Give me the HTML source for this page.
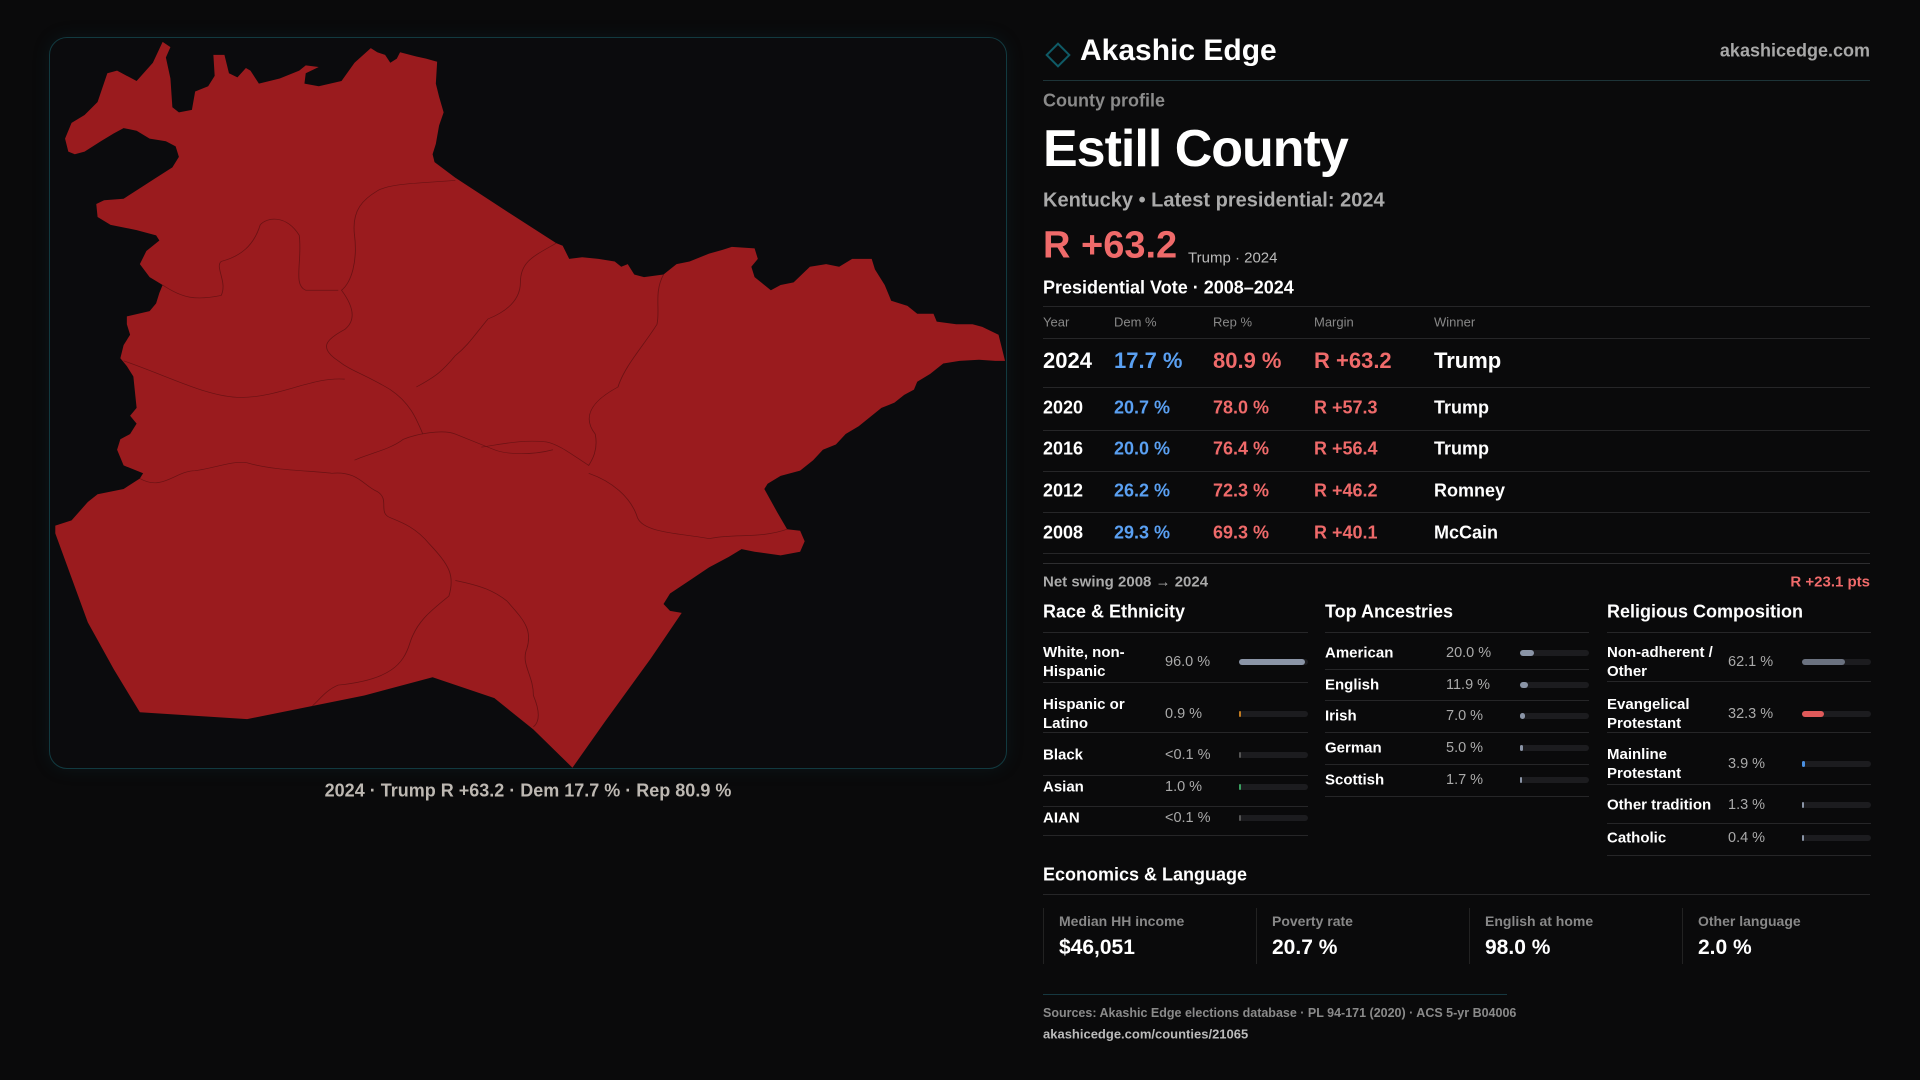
<!DOCTYPE html>
<html><head><meta charset="utf-8"><style>
*{margin:0;padding:0;box-sizing:border-box}
body{width:1920px;height:1080px;background:#0a0a0b;font-family:"Liberation Sans",sans-serif;position:relative;overflow:hidden;color:#fff}
.a{position:absolute;white-space:nowrap}
.ln{position:absolute;height:1px;background:#262628}
.mid{transform:translateY(-50%)}
</style></head><body>
<div class="a" style="left:49px;top:37px;width:958px;height:732px;border:1px solid #123a40;border-radius:18px;background:#0b0b0d;box-shadow:0 0 18px rgba(20,90,100,0.15)"></div>
<svg class="a" style="left:0;top:0" width="1020" height="820" viewBox="0 0 1568 1568" preserveAspectRatio="none">
<path fill="#9a1b1e" d="M105,290 L100,265 110,235 130,220 150,195 165,140 180,135 210,155 235,120 250,80 262,90 255,110 262,150 265,205 275,215 295,210 300,175 320,165 330,145 328,105 345,105 352,140 365,148 378,130 385,135 398,160 430,150 460,135 470,125 490,128 470,140 468,160 490,165 525,155 545,120 570,92 580,100 592,105 600,120 610,112 615,100 640,108 655,112 672,118 670,160 675,185 682,215 675,240 670,275 665,295 668,310 700,340 780,405 855,465 865,470 875,495 895,492 920,495 945,500 955,510 965,505 975,525 990,530 1020,525 1040,505 1060,500 1090,485 1110,478 1125,472 1160,475 1165,495 1155,510 1160,530 1175,545 1185,555 1200,545 1220,540 1245,510 1270,505 1290,510 1310,495 1340,495 1345,515 1360,545 1370,575 1395,585 1410,600 1435,600 1440,615 1470,620 1495,620 1510,625 1535,640 1540,665 1545,690 1530,690 1505,688 1475,690 1450,695 1430,715 1410,730 1405,745 1390,755 1375,770 1355,780 1335,800 1320,815 1300,830 1285,850 1265,860 1250,880 1230,900 1200,910 1180,925 1175,935 1195,980 1210,1012 1230,1015 1237,1035 1230,1055 1200,1062 1160,1055 1140,1050 1120,1065 1090,1085 1060,1110 1030,1135 1020,1155 1030,1168 1048,1172 1000,1260 930,1380 880,1468 820,1395 760,1335 665,1295 560,1330 460,1355 380,1375 215,1362 175,1280 135,1190 85,1020 85,1005 110,995 135,960 150,945 190,935 215,915 220,905 190,890 180,860 185,840 200,830 210,810 200,795 210,780 205,720 195,700 185,685 190,660 200,640 195,620 195,605 230,595 240,580 245,560 250,545 230,530 215,505 225,480 245,460 240,450 210,440 170,430 150,415 148,390 160,383 190,380 215,360 240,340 265,320 275,300 270,280 255,270 230,265 210,250 190,245 175,255 155,270 130,290 115,295 Z"/>
<g fill="none" stroke="#6a1214" stroke-width="1.3" vector-effect="non-scaling-stroke">
<path d="M190,690 C260,720 320,760 370,760 C430,760 480,720 530,725"/>
<path d="M700,345 C650,350 600,350 580,365 C560,380 540,400 545,450 C550,500 540,540 525,555 C540,580 550,610 530,630 C500,650 490,665 520,690 C540,710 560,715 600,745 C630,770 640,800 650,830"/>
<path d="M250,545 C280,570 300,575 340,565 C350,540 330,510 340,500 C370,490 390,470 400,430 C410,415 440,410 460,450 C465,500 450,545 470,555 L520,555"/>
<path d="M855,465 C820,490 800,500 800,540 C800,580 770,600 750,610 C730,640 720,660 700,680 C680,710 670,720 640,740"/>
<path d="M1020,525 C1005,560 1015,590 1010,620 C990,660 960,700 950,740 C920,760 890,790 915,830 C920,860 910,880 905,890 C880,870 860,850 840,845 C800,840 770,850 740,855"/>
<path d="M215,915 C250,940 270,900 300,900 C330,895 360,880 380,885 C420,900 480,900 510,905 C550,900 560,930 580,940 C600,955 580,980 600,990 C620,1000 640,1010 660,1040"/>
<path d="M660,1040 C690,1080 700,1100 690,1140 C660,1170 640,1190 630,1230 C620,1270 600,1300 520,1310 C500,1320 490,1340 480,1350"/>
<path d="M905,905 C940,920 970,950 980,990 C990,1020 1050,1020 1090,1030 C1130,1020 1170,1030 1210,1012"/>
<path d="M700,1110 C740,1120 760,1130 780,1150 C800,1180 820,1200 810,1240 C800,1270 820,1290 820,1330 C830,1360 830,1380 820,1390"/>
<path d="M545,880 C560,870 600,860 620,840 C640,830 680,820 700,830 C720,840 740,850 760,860 C780,870 820,870 850,860"/>
</g>
</svg>
<div class="a mid" style="left:0;width:1056px;text-align:center;top:791px;font-size:18px;color:#bdb8b2;font-weight:bold">2024 · Trump R +63.2 · Dem 17.7 % · Rep 80.9 %</div>

<svg class="a" style="left:1043px;top:40px" width="30" height="30"><rect x="7" y="7" width="16" height="16" transform="rotate(45 15 15)" fill="none" stroke="#0f5a66" stroke-width="2"/></svg>
<div class="a mid" style="left:1080px;top:51px;font-size:30px;font-weight:bold">Akashic Edge</div>
<div class="a mid" style="right:50px;top:51px;font-size:18px;font-weight:bold;color:#a8a8a8">akashicedge.com</div>
<div class="ln" style="left:1043px;width:827px;top:80px;background:#1d3438"></div>
<div class="a mid" style="left:1043px;top:101px;font-size:18px;color:#8a8a8a;font-weight:bold">County profile</div>
<div class="a mid" style="left:1043px;top:149px;font-size:52px;font-weight:bold;letter-spacing:-1px">Estill County</div>
<div class="a mid" style="left:1043px;top:201px;font-size:20px;color:#aaa;font-weight:bold">Kentucky • Latest presidential: 2024</div>
<div class="a mid" style="left:1043px;top:246px;font-size:38px;color:#ef6a6a;font-weight:bold">R +63.2</div>
<div class="a mid" style="left:1188px;top:258px;font-size:15px;color:#bbb">Trump · 2024</div>
<div class="a mid" style="left:1043px;top:288px;font-size:18px;font-weight:bold">Presidential Vote · 2008–2024</div>
<div class="ln" style="left:1043px;width:827px;top:306px"></div>
<div id="tbl"></div>
<div class="a mid" style="left:1043px;top:582px;font-size:15px;color:#aaa;font-weight:bold">Net swing 2008 → 2024</div>
<div class="a mid" style="right:50px;top:582px;font-size:15px;color:#ef6a6a;font-weight:bold">R +23.1 pts</div>
<div id="demo"></div>
<div class="a mid" style="left:1043px;top:875px;font-size:18px;font-weight:bold">Economics &amp; Language</div>
<div class="ln" style="left:1043px;width:827px;top:894px"></div>
<div id="econ"></div>
<div class="ln" style="left:1043px;width:464px;top:994px;background:#163840"></div>
<div class="a mid" style="left:1043px;top:1013px;font-size:12.5px;color:#8a8a8a;font-weight:bold">Sources: Akashic Edge elections database · PL 94-171 (2020) · ACS 5-yr B04006</div>
<div class="a mid" style="left:1043px;top:1034px;font-size:13px;color:#bbb;font-weight:bold">akashicedge.com/counties/21065</div>

<script>
const years=["2024","2020","2016","2012","2008"];
const demPct=[17.7,20.7,20.0,26.2,29.3];
const repPct=[80.9,78.0,76.4,72.3,69.3];
const margins=[63.2,57.3,56.4,46.2,40.1];
const winners=["Trump","Trump","Trump","Romney","McCain"];
const raceLabels=["White, non-<br>Hispanic","Hispanic or<br>Latino","Black","Asian","AIAN"];
const raceValues=[96.0,0.9,0.05,1.0,0.05];
const raceText=["96.0 %","0.9 %","<0.1 %","1.0 %","<0.1 %"];
const ancLabels=["American","English","Irish","German","Scottish"];
const ancValues=[20.0,11.9,7.0,5.0,1.7];
const relLabels=["Non-adherent /<br>Other","Evangelical<br>Protestant","Mainline<br>Protestant","Other tradition","Catholic"];
const relValues=[62.1,32.3,3.9,1.3,0.4];
const econLabels=["Median HH income","Poverty rate","English at home","Other language"];
const econValues=["$46,051","20.7 %","98.0 %","2.0 %"];

function mk(parent,html,style){const d=document.createElement('div');d.className='a';d.innerHTML=html;d.style.cssText=style;parent.appendChild(d);return d;}
const tbl=document.getElementById('tbl');
const colX=[1043,1114,1213,1314,1434];
["Year","Dem %","Rep %","Margin","Winner"].forEach((h,i)=>{
 const d=mk(tbl,h,`left:${colX[i]}px;top:322px;transform:translateY(-50%);font-size:13px;color:#888`);
 
 
});
mk(tbl,'','left:1043px;width:827px;top:338px;height:1px;background:#262628');
const rowY=[361,408,449,491,533];
const lineY=[387,430,471,512,553];
years.forEach((y,i)=>{
 const fs=i===0?22:18;
 const cells=[[y,'#fff'],[demPct[i].toFixed(1)+' %','#5aa0f2'],[repPct[i].toFixed(1)+' %','#ef6a6a'],['R +'+margins[i].toFixed(1),'#ef6a6a'],[winners[i],'#fff']];
 cells.forEach((c,j)=>{
  const d=mk(tbl,c[0],`left:${colX[j]}px;top:${rowY[i]}px;transform:translateY(-50%);font-size:${fs}px;color:${c[1]};font-weight:bold`);
  
  
 });
 mk(tbl,'',`left:1043px;width:827px;top:${lineY[i]}px;height:1px;background:#262628`);
});
mk(tbl,'','left:1043px;width:827px;top:563px;height:1px;background:#2e2e30');
const demo=document.getElementById('demo');
function section(x,title,labels,values,texts,ys,lys,colors,valX,barX){
 const t=mk(demo,title,`left:${x}px;top:612px;transform:translateY(-50%);font-size:18px;font-weight:bold`);
 
 
 mk(demo,'',`left:${x}px;width:${barX+69-x}px;top:632px;height:1px;background:#262628`);
 labels.forEach((l,i)=>{
  const a=mk(demo,l,`left:${x}px;top:${ys[i]}px;transform:translateY(-50%);font-size:15px;font-weight:bold;line-height:19px`);
  
  
  const v=mk(demo,texts[i],`left:${valX}px;top:${ys[i]}px;transform:translateY(-50%);font-size:14.5px;color:#aaa`);
  
  
  const tr=mk(demo,'',`left:${barX}px;top:${ys[i]-3}px;width:69px;height:6px;border-radius:3px;background:#1c1c1f`);
  
  
  const w=Math.max(1.5,values[i]/100*69);
  const b=mk(demo,'',`left:${barX}px;top:${ys[i]-3}px;width:${w}px;height:6px;border-radius:3px;background:${colors[i]}`);
  
  
  mk(demo,'',`left:${x}px;width:${barX+69-x}px;top:${lys[i]}px;height:1px;background:#262628`);
 });
}
section(1043,"Race &amp; Ethnicity",raceLabels,raceValues,raceText,[662,714,755,787,818],[682,732,775,806,835],["#8a94a6","#c07a20","#555","#3aa060","#555"],1165,1239);
section(1325,"Top Ancestries",ancLabels,ancValues,ancValues.map(v=>v.toFixed(1)+' %'),[653,685,716,748,780],[669,700,732,764,796],["#8a94a6","#8a94a6","#8a94a6","#8a94a6","#8a94a6"],1446,1520);
section(1607,"Religious Composition",relLabels,relValues,relValues.map(v=>v.toFixed(1)+' %'),[662,714,764,805,838],[681,732,784,823,855],["#6b7280","#e05a5a","#4a8fe0","#8a94a6","#8a94a6"],1728,1802);
const econ=document.getElementById('econ');
econLabels.forEach((l,i)=>{
 const x=1043+i*213;
 mk(econ,'',`left:${x}px;top:908px;width:1px;height:56px;background:#222`);
 const a=mk(econ,l,`left:${x+16}px;top:921px;transform:translateY(-50%);font-size:14px;color:#888;font-weight:bold`);
 
 
 const v=mk(econ,econValues[i],`left:${x+16}px;top:948px;transform:translateY(-50%);font-size:21px;font-weight:bold`);
 
 
});
</script>
</body></html>
